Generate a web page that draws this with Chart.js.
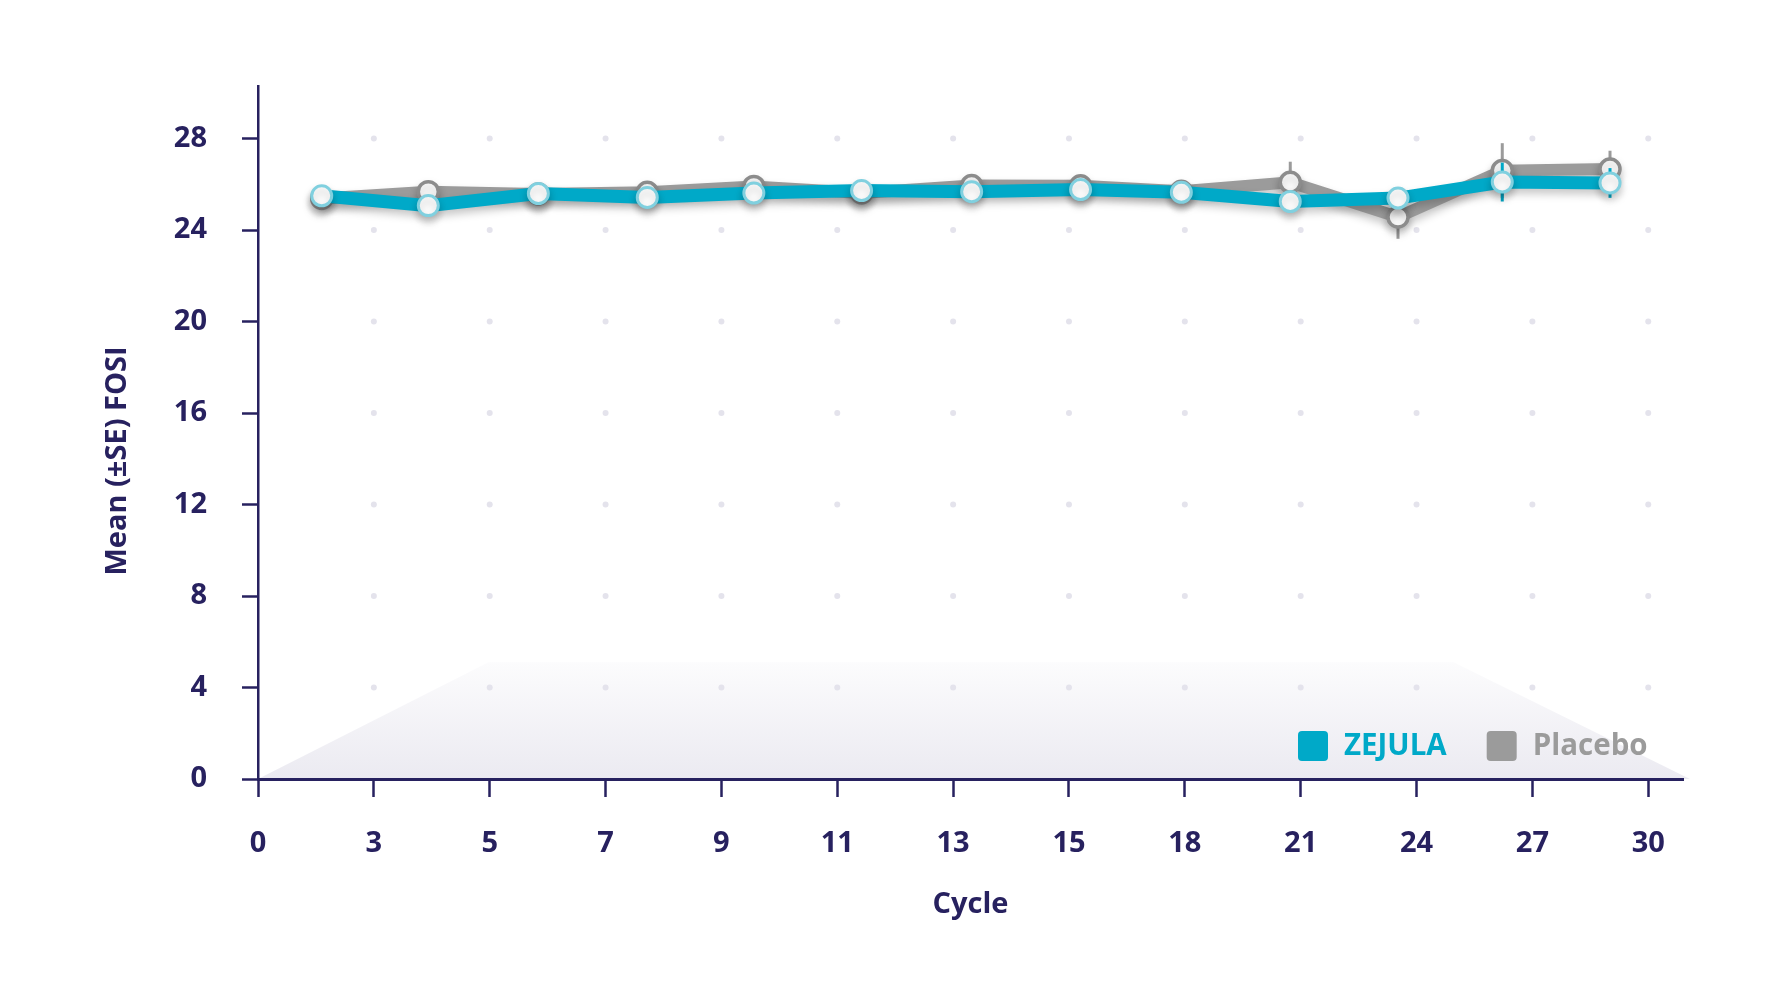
<!DOCTYPE html>
<html lang="en">
<head>
<meta charset="utf-8">
<title>Mean (±SE) FOSI by Cycle</title>
<script src="https://cdn.jsdelivr.net/npm/chart.js@4.4.1/dist/chart.umd.min.js"></script>
<style>
    html, body { margin: 0; padding: 0; background: #ffffff; }
    #chart-wrap { position: relative; width: 1792px; height: 1006px; }
</style>
</head>
<body>
<div id="chart-wrap"><canvas id="fosi-chart"></canvas></div>
<script>
// ======== 1. DONNÉES ========
const cycleLabels = ['0', '3', '5', '7', '9', '11', '13', '15', '18', '21', '24', '27', '30'];
// Position des visites sur l'axe (en unités de graduation)
const visitPositions = [0.55, 1.47, 2.42, 3.36, 4.28, 5.21, 6.16, 7.10, 7.97, 8.91, 9.84, 10.74, 11.67];
const zejulaMean = [25.5, 25.07, 25.6, 25.43, 25.62, 25.73, 25.68, 25.77, 25.65, 25.25, 25.4, 26.1, 26.06];
const zejulaSE = [0.3, 0.3, 0.3, 0.3, 0.3, 0.3, 0.3, 0.3, 0.35, 0.4, 0.45, 0.85, 0.65];
const placeboMean = [25.38, 25.68, 25.58, 25.65, 25.91, 25.62, 25.95, 25.94, 25.7, 26.09, 24.57, 26.6, 26.67];
const placeboSE = [0.3, 0.35, 0.35, 0.35, 0.35, 0.4, 0.4, 0.4, 0.45, 0.9, 0.95, 1.2, 0.8];
const yTickValues = [0, 4, 8, 12, 16, 20, 24, 28];

// ======== 2. STYLE ========
const NAVY = '#27215f';
const TEAL = '#00a9c8';
const TEAL_RING = '#80d0df';
const GREY = '#9b9b9b';
const GREY_RING = '#8c8c8c';
const FONT = "'Open Sans', 'DejaVu Sans', sans-serif";

const toPoints = (means) => means.map((m, i) => ({ x: visitPositions[i], y: m }));
const seByDataset = [zejulaSE, placeboSE];

// ======== 3. PLUGINS DE DESSIN ========
// Fond : trapèze dégradé + grille de points
const backdropPlugin = {
    id: 'backdrop',
    beforeDraw(chart) {
        const { ctx, scales: { x, y } } = chart;
        const bottom = y.getPixelForValue(0);
        const top = y.getPixelForValue(5.1);

        ctx.save();
        const grad = ctx.createLinearGradient(0, top, 0, bottom);
        grad.addColorStop(0, '#fcfcfd');
        grad.addColorStop(1, '#ebeaf1');
        ctx.fillStyle = grad;
        ctx.beginPath();
        ctx.moveTo(x.getPixelForValue(0), bottom);
        ctx.lineTo(x.getPixelForValue(1.99), top);
        ctx.lineTo(x.getPixelForValue(10.32), top);
        ctx.lineTo(x.getPixelForValue(12.36), bottom);
        ctx.closePath();
        ctx.fill();

        ctx.fillStyle = '#e4e3ec';
        x.ticks.forEach(xt => {
            if (xt.value === 0) return;
            y.ticks.forEach(yt => {
                if (yt.value === 0) return;
                ctx.beginPath();
                ctx.arc(x.getPixelForValue(xt.value), y.getPixelForValue(yt.value), 3, 0, Math.PI * 2);
                ctx.fill();
            });
        });
        ctx.restore();
    }
};

// Barres d'erreur (±SE) + ombre portée des courbes
const errorBarPlugin = {
    id: 'errorBars',
    beforeDatasetDraw(chart, args) {
        const { ctx, scales: { y } } = chart;
        const ds = chart.data.datasets[args.index];
        const se = seByDataset[args.index];
        ctx.save();
        ctx.strokeStyle = ds.borderColor;
        ctx.lineWidth = 3;
        args.meta.data.forEach((pt, i) => {
            const m = ds.data[i].y;
            ctx.beginPath();
            ctx.moveTo(pt.x, y.getPixelForValue(m + se[i]));
            ctx.lineTo(pt.x, y.getPixelForValue(m - se[i]));
            ctx.stroke();
        });
        ctx.restore();

        ctx.save();
        ctx.shadowColor = 'rgba(0, 0, 0, 0.22)';
        ctx.shadowBlur = 8;
        ctx.shadowOffsetY = 5;
    },
    afterDatasetDraw(chart) {
        chart.ctx.restore();
    }
};

// Titre de l'axe Y et légende
const overlayPlugin = {
    id: 'overlay',
    afterDraw(chart) {
        const { ctx, chartArea } = chart;
        ctx.save();

        ctx.fillStyle = NAVY;
        ctx.font = `bold 29px ${FONT}`;
        ctx.textAlign = 'center';
        ctx.textBaseline = 'middle';
        ctx.translate(118, 461);
        ctx.rotate(-Math.PI / 2);
        ctx.fillText('Mean (±SE) FOSI', 0, 0);
        ctx.setTransform(1, 0, 0, 1, 0, 0);

        // légende en bas à droite du graphique
        const cy = chartArea.bottom - 33;
        let lx = 1298;
        ctx.font = `bold 29.5px ${FONT}`;
        ctx.textAlign = 'left';
        chart.data.datasets.forEach(ds => {
            ctx.fillStyle = ds.borderColor;
            ctx.beginPath();
            ctx.roundRect(lx, cy - 15, 30, 30, 4);
            ctx.fill();
            ctx.fillText(ds.label, lx + 46, cy + 1);
            lx += 46 + ctx.measureText(ds.label).width + 40;
        });
        ctx.restore();
    }
};

// ======== 4. GRAPHIQUE ========
const tickFont = { family: FONT, size: 29, weight: 'bold' };

new Chart(document.getElementById('fosi-chart'), {
    type: 'line',
    data: {
        datasets: [
            {
                label: 'ZEJULA',
                data: toPoints(zejulaMean),
                borderColor: TEAL,
                borderWidth: 13,
                pointBackgroundColor: '#ffffff',
                pointBorderColor: TEAL_RING,
                pointBorderWidth: 3,
                pointRadius: 10,
                tension: 0
            },
            {
                label: 'Placebo',
                data: toPoints(placeboMean),
                borderColor: GREY,
                borderWidth: 12,
                pointBackgroundColor: '#ffffff',
                pointBorderColor: GREY_RING,
                pointBorderWidth: 3.5,
                pointRadius: 10,
                tension: 0
            }
        ]
    },
    options: {
        responsive: true,
        maintainAspectRatio: false,
        animation: false,
        layout: { padding: { top: 86, right: 109, left: 0, bottom: 0 } },
        plugins: {
            legend: { display: false },
            tooltip: { enabled: false }
        },
        scales: {
            x: {
                type: 'linear',
                min: 0,
                max: 12.3,
                afterBuildTicks: s => { s.ticks = cycleLabels.map((_, i) => ({ value: i })); },
                afterFit: s => { s.height = 227; },
                grid: { drawOnChartArea: false, drawTicks: true, tickLength: 18, tickWidth: 2.5, tickColor: NAVY },
                border: { color: NAVY, width: 3 },
                ticks: {
                    color: NAVY,
                    font: tickFont,
                    padding: 29,
                    maxRotation: 0,
                    autoSkip: false,
                    callback: (v) => cycleLabels[v]
                },
                title: { display: true, text: 'Cycle', color: NAVY, font: tickFont, padding: { top: 0, bottom: 84 } }
            },
            y: {
                min: 0,
                max: 30.3,
                afterBuildTicks: s => { s.ticks = yTickValues.map(v => ({ value: v })); },
                afterFit: s => { s.width = 258; },
                grid: { drawOnChartArea: false, drawTicks: true, tickLength: 16, tickWidth: 2.5, tickColor: NAVY },
                border: { color: NAVY, width: 2.5 },
                ticks: { color: NAVY, font: tickFont, padding: 35 }
            }
        }
    },
    plugins: [backdropPlugin, errorBarPlugin, overlayPlugin]
});
</script>
</body>
</html>
